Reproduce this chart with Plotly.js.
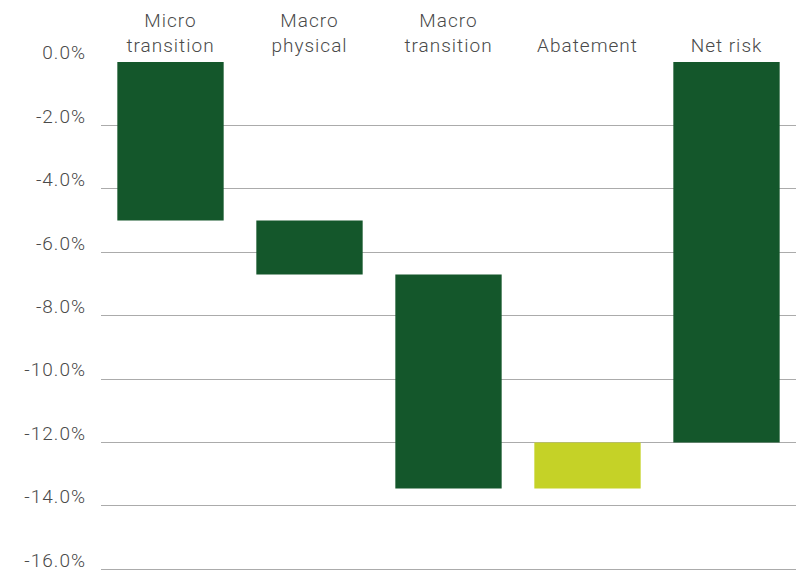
<!DOCTYPE html>
<html>
<head>
<meta charset="utf-8">
<script src="https://cdn.plot.ly/plotly-3.0.1.min.js"></script>
<style>
html,body{margin:0;padding:0;background:#fff;}
#chart{width:798px;height:571px;}
#chart .xtick text, #chart .ytick text{letter-spacing:1px;}
</style>
</head>
<body>
<div id="chart"></div>
<script>
var categories = ["Micro<br>transition", "Macro<br>physical", "Macro<br>transition", "Abatement", "Net risk"];
var barBase = [0, -5.0, -6.7, -13.45, 0];
var barDelta = [-5.0, -1.7, -6.75, 1.45, -12.0];
var barColors = ["#14572b", "#14572b", "#14572b", "#c5d227", "#14572b"];
var yTickVals = [0, -2, -4, -6, -8, -10, -12, -14, -16];
var yTickText = yTickVals.map(function(v){ return v.toFixed(1) + "%"; });

var trace = {
  type: "bar",
  x: categories,
  y: barDelta,
  base: barBase,
  marker: {color: barColors, line: {width: 0}},
  hoverinfo: "none"
};

var labelFont = {family: "Roboto, sans-serif", weight: 300, size: 19, color: "#4a4a4a"};

var layout = {
  width: 798, height: 571,
  margin: {l: 101, r: 2, t: 62, b: 0, pad: 0},
  paper_bgcolor: "#ffffff",
  plot_bgcolor: "#ffffff",
  bargap: 0.235,
  showlegend: false,
  font: labelFont,
  xaxis: {
    side: "top",
    showgrid: false,
    zeroline: false,
    showline: false,
    ticks: "",
    ticklabelstandoff: 5,
    ticklabeloverflow: "allow",
    tickfont: labelFont,
    fixedrange: true
  },
  yaxis: {
    range: [-16.05, 0],
    tickvals: yTickVals,
    ticktext: yTickText,
    showgrid: true,
    gridcolor: "#ababab",
    gridwidth: 1,
    zeroline: false,
    showline: false,
    ticks: "",
    ticklabelposition: "outside top",
    ticklabelstandoff: 14,
    ticklabelshift: 4,
    ticklabeloverflow: "allow",
    tickfont: labelFont,
    fixedrange: true
  }
};

Plotly.newPlot("chart", [trace], layout, {displayModeBar: false, staticPlot: true});
</script>
</body>
</html>
